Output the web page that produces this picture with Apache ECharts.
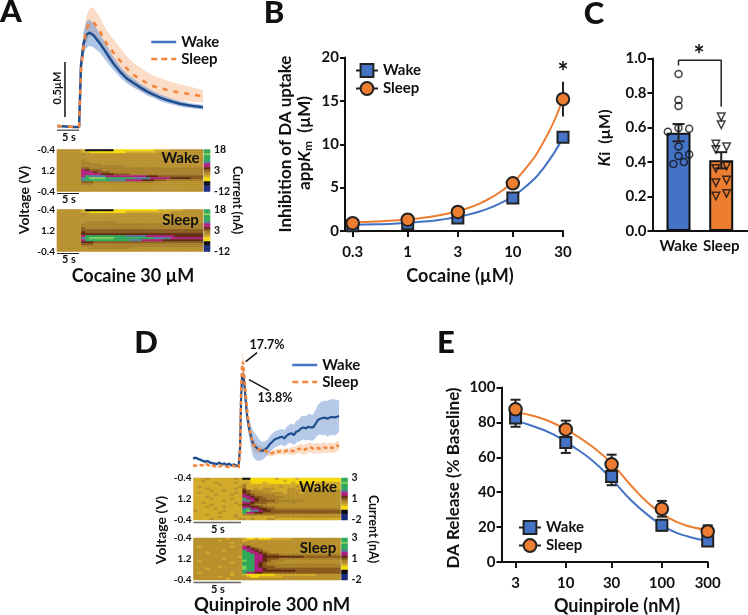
<!DOCTYPE html>
<html><head><meta charset="utf-8">
<style>html,body{margin:0;padding:0;background:#fff}#c{width:748px;height:615px}</style>
<script src="https://cdn.jsdelivr.net/npm/echarts@6/dist/echarts.min.js"></script>
</head><body><div id="c"></div>
<script>
// ---------- Panel A trace (time s, DA uM) ----------
const timeA=[0,2,4,5,5.4,6,6.6,7.3,8.2,9.7,11.2,12.7,14.3,15.8,17.3,18.8,20.3,21.8,23.3,24.8,26.3,27.8,29.3,30.8,33];
const wakeA=[.01,.005,0,0,.55,.76,.836,.858,.836,.76,.67,.58,.5,.44,.4,.36,.324,.294,.267,.245,.227,.212,.2,.19,.18];
const wakeErrA=[.005,.005,.005,.005,.06,.1,.12,.12,.11,.085,.075,.06,.05,.045,.04,.035,.035,.03,.03,.03,.025,.025,.025,.022,.022];
const sleepA=[.01,.005,0,0,.5,.74,.88,.945,.958,.87,.76,.68,.6,.53,.474,.435,.4,.37,.355,.337,.325,.312,.303,.294,.28];
const sleepErrA=[.004,.004,.004,.004,.06,.09,.12,.13,.13,.125,.12,.12,.115,.11,.11,.105,.1,.095,.09,.085,.08,.075,.07,.065,.055];
// ---------- Panel D trace (time s, relative signal) ----------
const timeD=[0,.25,.5,.75,1,1.25,1.5,1.75,2,2.25,2.5,2.75,3,3.25,3.5,3.75,4,4.25,4.5,4.75,4.9,5,5.1,5.2,5.3,5.45,5.6,5.8,6,6.25,6.5,6.75,7,7.25,7.5,7.75,8,8.25,8.5,8.75,9,9.25,9.5,9.75,10,10.25,10.5,10.75,11,11.25,11.5,11.75,12,12.25,12.5,12.75,13,13.25,13.5,13.75,14,14.25,14.5,14.75,15,15.2];
const wakeD=[8.3,9,8,7,6,5,5.7,4.3,3.5,3,2.7,4,2.3,3.3,1.7,3,1.3,2.3,1,1,20,66.7,90,93,87,70,53,40,31.7,23,20,17.7,16,16,17.3,19.3,22.7,25,27.3,28.3,29.3,30,28.3,31,32.7,33.3,31.7,35,36,38.3,39.3,38.3,40,39.3,39.3,42.7,46.7,48,48.7,49,48,49.3,49.7,49.3,50,50.7];
const wakeErrD=[1.5,1.5,1.5,1.5,1.5,1.5,1.5,1.5,1.5,1.5,1.5,1.5,1.5,1.5,1.5,1.5,1.5,1.5,1.5,1.5,3,5,5,5,5,6,8,9,11,13,13,12,10,9,8,8,8,8,8,8,8,8,8,9,9,10,10,11,11,12,12,12,13,13,13,14,15,16,17,17,18,18,18,18,17,16];
const sleepD=[.7,1.3,1,1.7,1.3,3.3,2,.7,1.3,.3,1,0,1.3,.7,0,-.3,1.3,.7,0,-1,13,73,100,105,95,76.7,60,43,31.7,22.7,19.3,17.3,17.3,16.7,16,14.7,13.3,13.7,14.3,15,15.3,15,15,16,15.3,15.7,15.7,17.3,17.7,18.3,16.7,17.7,18.7,19.3,18,18.3,18.7,18,19,19.3,18.3,19.3,19,18.7,20.7,21.3];
const sleepErrD=[.7,.7,.7,.7,.7,.7,.7,.7,.7,.7,.7,.7,.7,.7,.7,.7,.7,.7,.7,.7,3,7,9,10,9,8,7,6,6,6,6,5,4,3,3,3,3,3,3,3,3,3,3,3,3,4,4,4,4,5,5,5,5,5,5,5,5,5,5,5,5,5,5,5,5,5];
// ---------- Heatmaps: each character is a colour level, row 0 at the top ----------
const heatAWake=[
"444444311111112222222222333344444444","444444332222222223333333344444","44444454444","44444444444","44444444444",
"444444544444","4444445544444","444444555554444444444444","444444555555555554444444444444","444444665555555555555555555555",
"444444876665555555555555555555","444444888766655555555555555555","444444888887776666555555555555","4444448a9999888888888877766666",
"4444449abbbbaaaaaaa999988888777776","4444449aaaaaa99998888777666555555","444444666555555555555555444444","44444455544444","444444444","4","4"];
const heatASleep=[
"44444431111111222222222223333334444","444444332222222223333333333344444","444444544444","4444444444","44444444",
"444444444","444444455555555444444444444444","444444555555555555555555555555","444444555555555555555555555555",
"444444655555555555555555555555","444444666666666666666666666666","444444766666666666666666666666","444444777777777777777777777777",
"4444448aaaaaaaaaa9999988888887777777","4444449abbbbbbaaaaaaaaaa9999888888888","4444448aaaaaaaaaaa999888887777777","444444777666666666666666666666",
"444444666555555555555555555555","444444555555555555555555555555","444444445555555555444444444","444444444"];
const heatDWake=[
"333433333343112222223222232222","334333333333332222222232222222","3333343333433322232222223222223","333333433333533333333333","343333333334533333333433343",
"3334333333436334344433344333","3333433433337654444333344444","3433333333437655544444344434","3333343334338765555544444444","3334333333338876655555444444",
"333343333433a887665554444444","3333333433339a87666655555554","334333333343887666555444544","333343333334776555444444444","3334333433338877655544444",
"3333343333339a88776655555555","433333343333ab99877666666666","333333433333a8877666666666","3334333333435555555544444","3333334333433333333344","3333433333344343334433"];
const heatDSleep=[
"4444444434443223222333334","444444344444344444444","4444444443444444","444444444444544444","4344444443448754444",
"44444444444488765444","444444434444a88765444","444344444444aa887654444","444444444444aaa88766655555","444444444443aaa88777777777766666",
"444444434444aaa887666555555","434444444444baa8876555444","444444444344aaa8765544444","444444444444aaa876555555","444444344444baa876665555",
"444344444444baa887666666","444444444444aaa8877777777666666","434444444344a8877666666666666","4444444443443222222233333333334444","4444443444444322333333444444","44444444344444"];
const colorBarLevels=["a","a","b","a","a","a","9","8","8","7","6","5","4","3","2","2","1","1","0","0","0"];
const heatPalette=['#1b2a78','#0b0b0f','#f5d90a','#d2ab2a','#b8912c','#a9802a','#8a5a1c','#5f2a10','#b01f7f','#4f7f9a','#2fa85a','#7fd05a'];
const voltageLabels=['-0.4','1.2','-0.4'];
const currentLabelsA=['-12','3','18'];
const currentLabelsD=['-2','1','3'];
// ---------- Panel B ----------
const cocaineConc=[.3,1,3,10,30];
const wakeB=[.6,.85,1.5,3.8,10.8];
const sleepB=[.9,1.3,2.2,5.5,15.2];
const sleepErrB=[0,0,0,0,2];
const cocaineFitX=[.3,.5,.8,1.25,2,3.2,5,8,12.5,20,30];
const wakeFitB=[.7,.77,.87,1.03,1.28,1.69,2.3,3.32,4.85,7.4,10.8];
const sleepFitB=[.99,1.09,1.23,1.45,1.81,2.39,3.25,4.69,6.85,10.45,15.25];
// ---------- Panel C ----------
const groupsC=['Wake','Sleep'];
const meanC=[.57,.41];
const errC=[.05,.047];
const wakePtsC=[[1,.91],[1,.76],[1,.725],[.75,.575],[1,.597],[1.25,.593],[1,.49],[1,.435],[1.25,.444],[1.125,.4],[.88,.388]];
const sleepPtsC=[[2,.662],[2,.616],[1.875,.504],[1.875,.473],[2.125,.488],[1.875,.363],[2.125,.378],[1.875,.28],[2.125,.295],[1.875,.203],[2.125,.218]];
const bracketC=[[1,.96],[1,.99],[2,.99],[2,.72]];
// ---------- Panel E ----------
const quinConc=[3,10,30,100,300];
const wakeE=[82.5,68.5,49,21,12];
const wakeErrE=[5,6,5,3,2];
const sleepE=[87.5,76,56,30.5,17.5];
const sleepErrE=[5.5,5,5.5,4.5,3.5];
const quinFitX=[3,4.75,7.5,12,19,30,47.5,75,120,190,300];
const wakeFitE=[81,77.5,73,66,58,47.5,35.5,26,18.5,14.5,12];
const sleepFitE=[86,83.5,79.5,73.5,66,56.5,44,33,25,20.5,18.5];

const FONT='Lato';
const BLUE='#4472c4',ORANGE='#ed7d31',NAVY='#1f4e8f',DASH='#f4853a',INK='#111';
const grids=[],xAxes=[],yAxes=[],series=[],legends=[],graphics=[],heatIdx=[];
const zip=(a,b)=>a.map((v,i)=>[v,b[i]]);
const lg=v=>Math.log10(v);
function addGrid(g,x,y){
  grids.push(g);const gi=grids.length-1;
  x.gridIndex=gi;xAxes.push(x);const xi=xAxes.length-1;
  const yi=[];(Array.isArray(y)?y:[y]).forEach(a=>{a.gridIndex=gi;yAxes.push(a);yi.push(yAxes.length-1);});
  return {xi,yi:yi[0],yi2:yi[1]};
}
const hidden=(min,max)=>({type:'value',show:false,min,max});
function band(ax,t,m,e,fill){
  const rows=t.map((v,i)=>[v,m[i]-e[i],m[i]+e[i]]);
  series.push({type:'custom',xAxisIndex:ax.xi,yAxisIndex:ax.yi,silent:true,z:1,data:rows,
    renderItem(p,api){
      if(p.dataIndex!==0) return null;
      const up=rows.map(r=>api.coord([r[0],r[2]]));
      const lo=rows.map(r=>api.coord([r[0],r[1]])).reverse();
      return {type:'polygon',shape:{points:up.concat(lo)},style:{fill}};
    }});
}
function plain(ax,data,color,width,extra){
  series.push(Object.assign({type:'line',xAxisIndex:ax.xi,yAxisIndex:ax.yi,symbol:'none',silent:true,z:5,data,
    lineStyle:{color,width}},extra||{}));
}
function errBars(ax,rows,cap,z){
  series.push({type:'custom',xAxisIndex:ax.xi,yAxisIndex:ax.yi,silent:true,z:z||3,data:rows,clip:false,
    renderItem(p,api){
      const x=api.value(0),y=api.value(1),e=api.value(2);
      const a=api.coord([x,y+e]),b=api.coord([x,y-e]);
      const st={stroke:'#222',lineWidth:2};
      const kids=[{type:'line',shape:{x1:a[0],y1:a[1],x2:b[0],y2:b[1]},style:st}];
      if(cap){kids.push({type:'line',shape:{x1:a[0]-cap,y1:a[1],x2:a[0]+cap,y2:a[1]},style:st});
        kids.push({type:'line',shape:{x1:b[0]-cap,y1:b[1],x2:b[0]+cap,y2:b[1]},style:st});}
      return {type:'group',children:kids};
    }});
}
function markers(ax,name,data,symbol,size,color){
  series.push({name,type:'line',xAxisIndex:ax.xi,yAxisIndex:ax.yi,symbol,symbolSize:size,showSymbol:true,z:6,silent:true,data,
    lineStyle:{width:0,opacity:0},itemStyle:{color,borderColor:'#222',borderWidth:2,opacity:1}});
}
function legendLine(left,top,names,cols,dash){
  legends.push({left,top,orient:'vertical',padding:0,itemGap:2,itemWidth:25,itemHeight:14,selectedMode:false,
    data:names.map((n,i)=>({name:n,itemStyle:{opacity:0,color:'rgba(0,0,0,0)',borderWidth:0},lineStyle:{color:cols[i],width:2.5,type:i?dash:'solid',opacity:1}})),
    formatter:n=>n.split(' ')[0],textStyle:{fontFamily:FONT,fontWeight:700,fontSize:15,color:INK}});
}
function legendMark(left,top,names){
  legends.push({left,top,orient:'vertical',padding:0,itemGap:3,itemWidth:22,itemHeight:16,selectedMode:false,
    data:names,lineStyle:{color:'#222',width:2,opacity:1},symbolSize:'inherit',
    formatter:n=>n.split(' ')[0],textStyle:{fontFamily:FONT,fontWeight:700,fontSize:15,color:INK}});
}
function T(x,y,text,size,o){
  o=o||{};
  graphics.push({type:'text',x,y,rotation:o.rot||0,silent:true,z:50,
    style:{text,font:`${o.weight||700} ${size}px ${FONT}`,fontFamily:FONT,fontSize:size,fontWeight:o.weight||700,textAlign:o.align||'center',textVerticalAlign:'middle',fill:o.fill||INK,rich:o.rich}});
}
function L(x1,y1,x2,y2,stroke,w){
  graphics.push({type:'line',silent:true,z:40,shape:{x1,y1,x2,y2},style:{stroke,lineWidth:w}});
}
function heatmap(left,top,w,h,rows,labels){
  const nc=36,data=[];
  rows.forEach((s,r)=>{for(let c=0;c<nc;c++){const ch=s[Math.min(c,s.length-1)];data.push([c,r,parseInt(ch,16)]);}});
  const ax=addGrid({left,top,width:w,height:h},
    {type:'category',show:false,data:Array.from({length:nc},(_,i)=>i)},
    [{type:'category',show:false,inverse:true,position:'right',data:rows.map((_,i)=>i)},
     {type:'value',position:'left',min:0,max:2,interval:1,splitLine:{show:false},axisLine:{show:false},
      axisTick:{length:6,lineStyle:{color:INK,width:1}},
      axisLabel:{margin:2,fontFamily:FONT,fontWeight:700,fontSize:10,color:INK,formatter:v=>voltageLabels[v]}}]);
  series.push({type:'heatmap',xAxisIndex:ax.xi,yAxisIndex:ax.yi,data,silent:true,z:2});
  heatIdx.push(series.length-1);
  const bar=addGrid({left:left+w+1,top,width:6,height:h},
    {type:'category',show:false,data:[0]},
    [{type:'category',show:false,inverse:true,position:'left',data:colorBarLevels.map((_,i)=>i)},
     {type:'value',position:'right',min:0,max:2,interval:1,splitLine:{show:false},axisLine:{show:false},
      axisTick:{length:5,lineStyle:{color:INK,width:1}},
      axisLabel:{margin:4,fontFamily:FONT,fontWeight:700,fontSize:10.5,color:INK,formatter:v=>labels[v]}}]);
  series.push({type:'heatmap',xAxisIndex:bar.xi,yAxisIndex:bar.yi,silent:true,z:2,data:colorBarLevels.map((c,i)=>[0,i,parseInt(c,16)])});
  heatIdx.push(series.length-1);
}
const axisStyle={axisLine:{show:true,onZero:false,lineStyle:{color:INK,width:2}},axisTick:{show:true,length:5,lineStyle:{color:INK,width:2}},splitLine:{show:false}};
const tickFont={fontFamily:FONT,fontWeight:700,fontSize:15,color:INK};
const concLabel=v=>String(Number(Math.pow(10,v).toPrecision(1)));
function logX(conc,min,max,margin){
  const ticks=conc.map(lg);
  return Object.assign({},axisStyle,{type:'value',min,max,
    axisTick:{show:true,length:6,lineStyle:{color:INK,width:2},customValues:ticks},
    axisLabel:{margin,customValues:ticks,showMinLabel:true,showMaxLabel:true,formatter:concLabel,...tickFont}});
}

// ---------- Panel A ----------
const axA=addGrid({left:57,top:6,width:146,height:126.5},hidden(0,33),hidden(-.05,1.1));
band(axA,timeA,sleepA,sleepErrA,'#fbdcc6');
band(axA,timeA,wakeA,wakeErrA,'rgba(110,150,210,.55)');
plain(axA,zip(timeA,wakeA),NAVY,2.5,{name:'Wake A',z:6});
plain(axA,zip(timeA,sleepA),DASH,2.5,{name:'Sleep A',z:7,lineStyle:{color:DASH,width:2.5,type:[5,6]}});
plain(axA,[[1.8,.09],[1.8,.59]],'#111',1.5,{clip:false});
plain(axA,[[0,-.03],[5,-.03]],'#666',1.5,{clip:false});
legendLine(150,34.5,['Wake A','Sleep A'],[BLUE,DASH],[6,4]);
T(57,88,'0.5µM',11,{rot:Math.PI/2});
T(69,137,'5 s',11);
heatmap(57,149.5,146,42,heatAWake,currentLabelsA);
heatmap(57,209.5,146,42,heatASleep,currentLabelsA);
L(57,193.5,79,193.5,'#222',1);L(57,253.5,79,253.5,'#222',1);
T(69,199.5,'5 s',11);T(69,259.5,'5 s',11);
T(180.5,158,'Wake',15);T(180.5,220,'Sleep',15);
T(24,200,'Voltage (V)',14,{rot:Math.PI/2});
T(237,200,'Current (nA)',12.5,{rot:-Math.PI/2});
T(133,276,'Cocaine 30 µM',18);
T(11,12,'A',31,{weight:900});

// ---------- Panel B ----------
const axB=addGrid({left:345,top:57.5,width:218,height:173.5},
  logX(cocaineConc,-.596,lg(30),14),
  Object.assign({},axisStyle,{type:'value',min:0,max:20,interval:5,axisLabel:{margin:6,...tickFont}}));
plain(axB,zip(cocaineFitX.map(lg),wakeFitB),BLUE,2,{smooth:.5,z:2});
plain(axB,zip(cocaineFitX.map(lg),sleepFitB),ORANGE,2,{smooth:.5,z:3});
errBars(axB,zip(cocaineConc.map(lg),sleepB).map((r,i)=>[r[0],r[1],sleepErrB[i]]).filter(r=>r[2]>0),0,4);
markers(axB,'Wake B',zip(cocaineConc.map(lg),wakeB),'rect',11,BLUE);
markers(axB,'Sleep B',zip(cocaineConc.map(lg),sleepB),'circle',12.5,ORANGE);
series[series.length-1].z=7;
legendMark(355,63,['Wake B','Sleep B']);
T(286,144,'Inhibition of DA uptake',17,{rot:Math.PI/2});
T(305,143,'{a|app}{k|K}{m|m}{a|  (µM)}',17,{rot:Math.PI/2,rich:{
  a:{fontFamily:FONT,fontWeight:700,fontSize:17,fill:INK},
  k:{fontFamily:FONT,fontWeight:700,fontStyle:'italic',fontSize:17,fill:INK},
  m:{fontFamily:FONT,fontWeight:700,fontSize:12,fill:INK,verticalAlign:'bottom',padding:[6,0,0,0]}}});
T(460,276,'Cocaine (µM)',18);
T(563,73,'*',26);
T(274,13,'B',31,{weight:900});

// ---------- Panel C ----------
const axC=addGrid({left:652.5,top:58.5,width:95.4,height:172.5},
  Object.assign({},axisStyle,{type:'value',min:.391,max:2.625,
    axisTick:{show:false,customValues:[1,2]},
    axisLabel:{margin:8,customValues:[1,2],showMinLabel:true,showMaxLabel:true,formatter:v=>groupsC[v-1],...tickFont}}),
  Object.assign({},axisStyle,{type:'value',min:0,max:1,interval:.2,axisLabel:{margin:6,formatter:v=>v.toFixed(1),...tickFont}}));
series.push({type:'bar',xAxisIndex:axC.xi,yAxisIndex:axC.yi,barWidth:24,silent:true,z:2,
  data:[{value:[1,meanC[0]],itemStyle:{color:BLUE,borderColor:'#111',borderWidth:2}},
        {value:[2,meanC[1]],itemStyle:{color:ORANGE,borderColor:'#111',borderWidth:2}}]});
errBars(axC,[[1,meanC[0],errC[0]],[2,meanC[1],errC[1]]],6,3);
const ptStyle={color:'rgba(0,0,0,0)',borderColor:'#111',borderWidth:1.5};
series.push({type:'scatter',xAxisIndex:axC.xi,yAxisIndex:axC.yi,silent:true,z:5,symbol:'circle',symbolSize:7,data:wakePtsC,itemStyle:ptStyle});
series.push({type:'scatter',xAxisIndex:axC.xi,yAxisIndex:axC.yi,silent:true,z:5,symbol:'triangle',symbolRotate:180,symbolSize:7.5,data:sleepPtsC,itemStyle:ptStyle});
plain(axC,bracketC,'#222',1.5,{clip:false});
T(605,138,'{k|K}{a|i  (µM)}',16,{rot:Math.PI/2,rich:{
  a:{fontFamily:FONT,fontWeight:700,fontSize:16,fill:INK},
  k:{fontFamily:FONT,fontWeight:700,fontStyle:'italic',fontSize:17,fill:INK}}});
T(699,56,'*',26);
T(594,14,'C',31,{weight:900});

// ---------- Panel D ----------
const axD=addGrid({left:193,top:346.7,width:147,height:125},hidden(0,15.3),hidden(-5,120));
band(axD,timeD,sleepD,sleepErrD,'#fbdcc6');
band(axD,timeD,wakeD,wakeErrD,'rgba(110,150,210,.5)');
plain(axD,zip(timeD,wakeD),NAVY,2.2,{name:'Wake D',z:6});
plain(axD,zip(timeD,sleepD),DASH,2.5,{name:'Sleep D',z:7,lineStyle:{color:DASH,width:2.5,type:[4,3]}});
plain(axD,[[5.49,105],[6.67,114]],'#111',1.5);
plain(axD,[[5.83,87],[7.92,76]],'#111',1.5);
legendLine(291,357.5,['Wake D','Sleep D'],[BLUE,DASH],[6,4]);
T(267,345,'17.7%',12.5);T(275,398,'13.8%',12.5);
heatmap(193.5,478,147,42,heatDWake,currentLabelsD);
heatmap(193.5,538,147,42,heatDSleep,currentLabelsD);
L(193.5,522.5,241,522.5,'#666',1.5);L(193.5,582.5,241,582.5,'#666',1.5);
T(218,529,'5 s',11);T(218,589,'5 s',11);
T(318,487,'Wake',15);T(318,548,'Sleep',15);
T(161,530,'Voltage (V)',14,{rot:Math.PI/2});
T(373,529,'Current (nA)',12.5,{rot:-Math.PI/2});
T(272,605,'Quinpirole 300 nM',18.5);
T(146,343,'D',31,{weight:900});

// ---------- Panel E ----------
const axE=addGrid({left:501.5,top:387.5,width:206.2,height:174.5},
  logX(quinConc,.331,lg(300),14),
  Object.assign({},axisStyle,{type:'value',min:0,max:100,interval:20,axisLabel:{margin:6,...tickFont}}));
plain(axE,zip(quinFitX.map(lg),wakeFitE),BLUE,2,{smooth:.5,z:2});
plain(axE,zip(quinFitX.map(lg),sleepFitE),ORANGE,2,{smooth:.5,z:3});
errBars(axE,quinConc.map((c,i)=>[lg(c),wakeE[i],wakeErrE[i]]),5,4);
errBars(axE,quinConc.map((c,i)=>[lg(c),sleepE[i],sleepErrE[i]]),5,4);
markers(axE,'Wake E',zip(quinConc.map(lg),wakeE),'rect',11,BLUE);
markers(axE,'Sleep E',zip(quinConc.map(lg),sleepE),'circle',12.5,ORANGE);
series[series.length-1].z=7;
legendMark(518,520,['Wake E','Sleep E']);
T(454,478,'DA Release (% Baseline)',17,{rot:Math.PI/2});
T(617,606,'Quinpirole (nM)',18);
T(446,343,'E',31,{weight:900});

const chart=echarts.init(document.getElementById('c'),null,{renderer:'canvas'});
chart.setOption({animation:false,backgroundColor:'#fff',grid:grids,xAxis:xAxes,yAxis:yAxes,series,legend:legends,graphic:{elements:graphics},
  visualMap:{show:false,type:'continuous',min:0,max:11,dimension:2,seriesIndex:heatIdx,inRange:{color:heatPalette}}});
</script></body></html>
